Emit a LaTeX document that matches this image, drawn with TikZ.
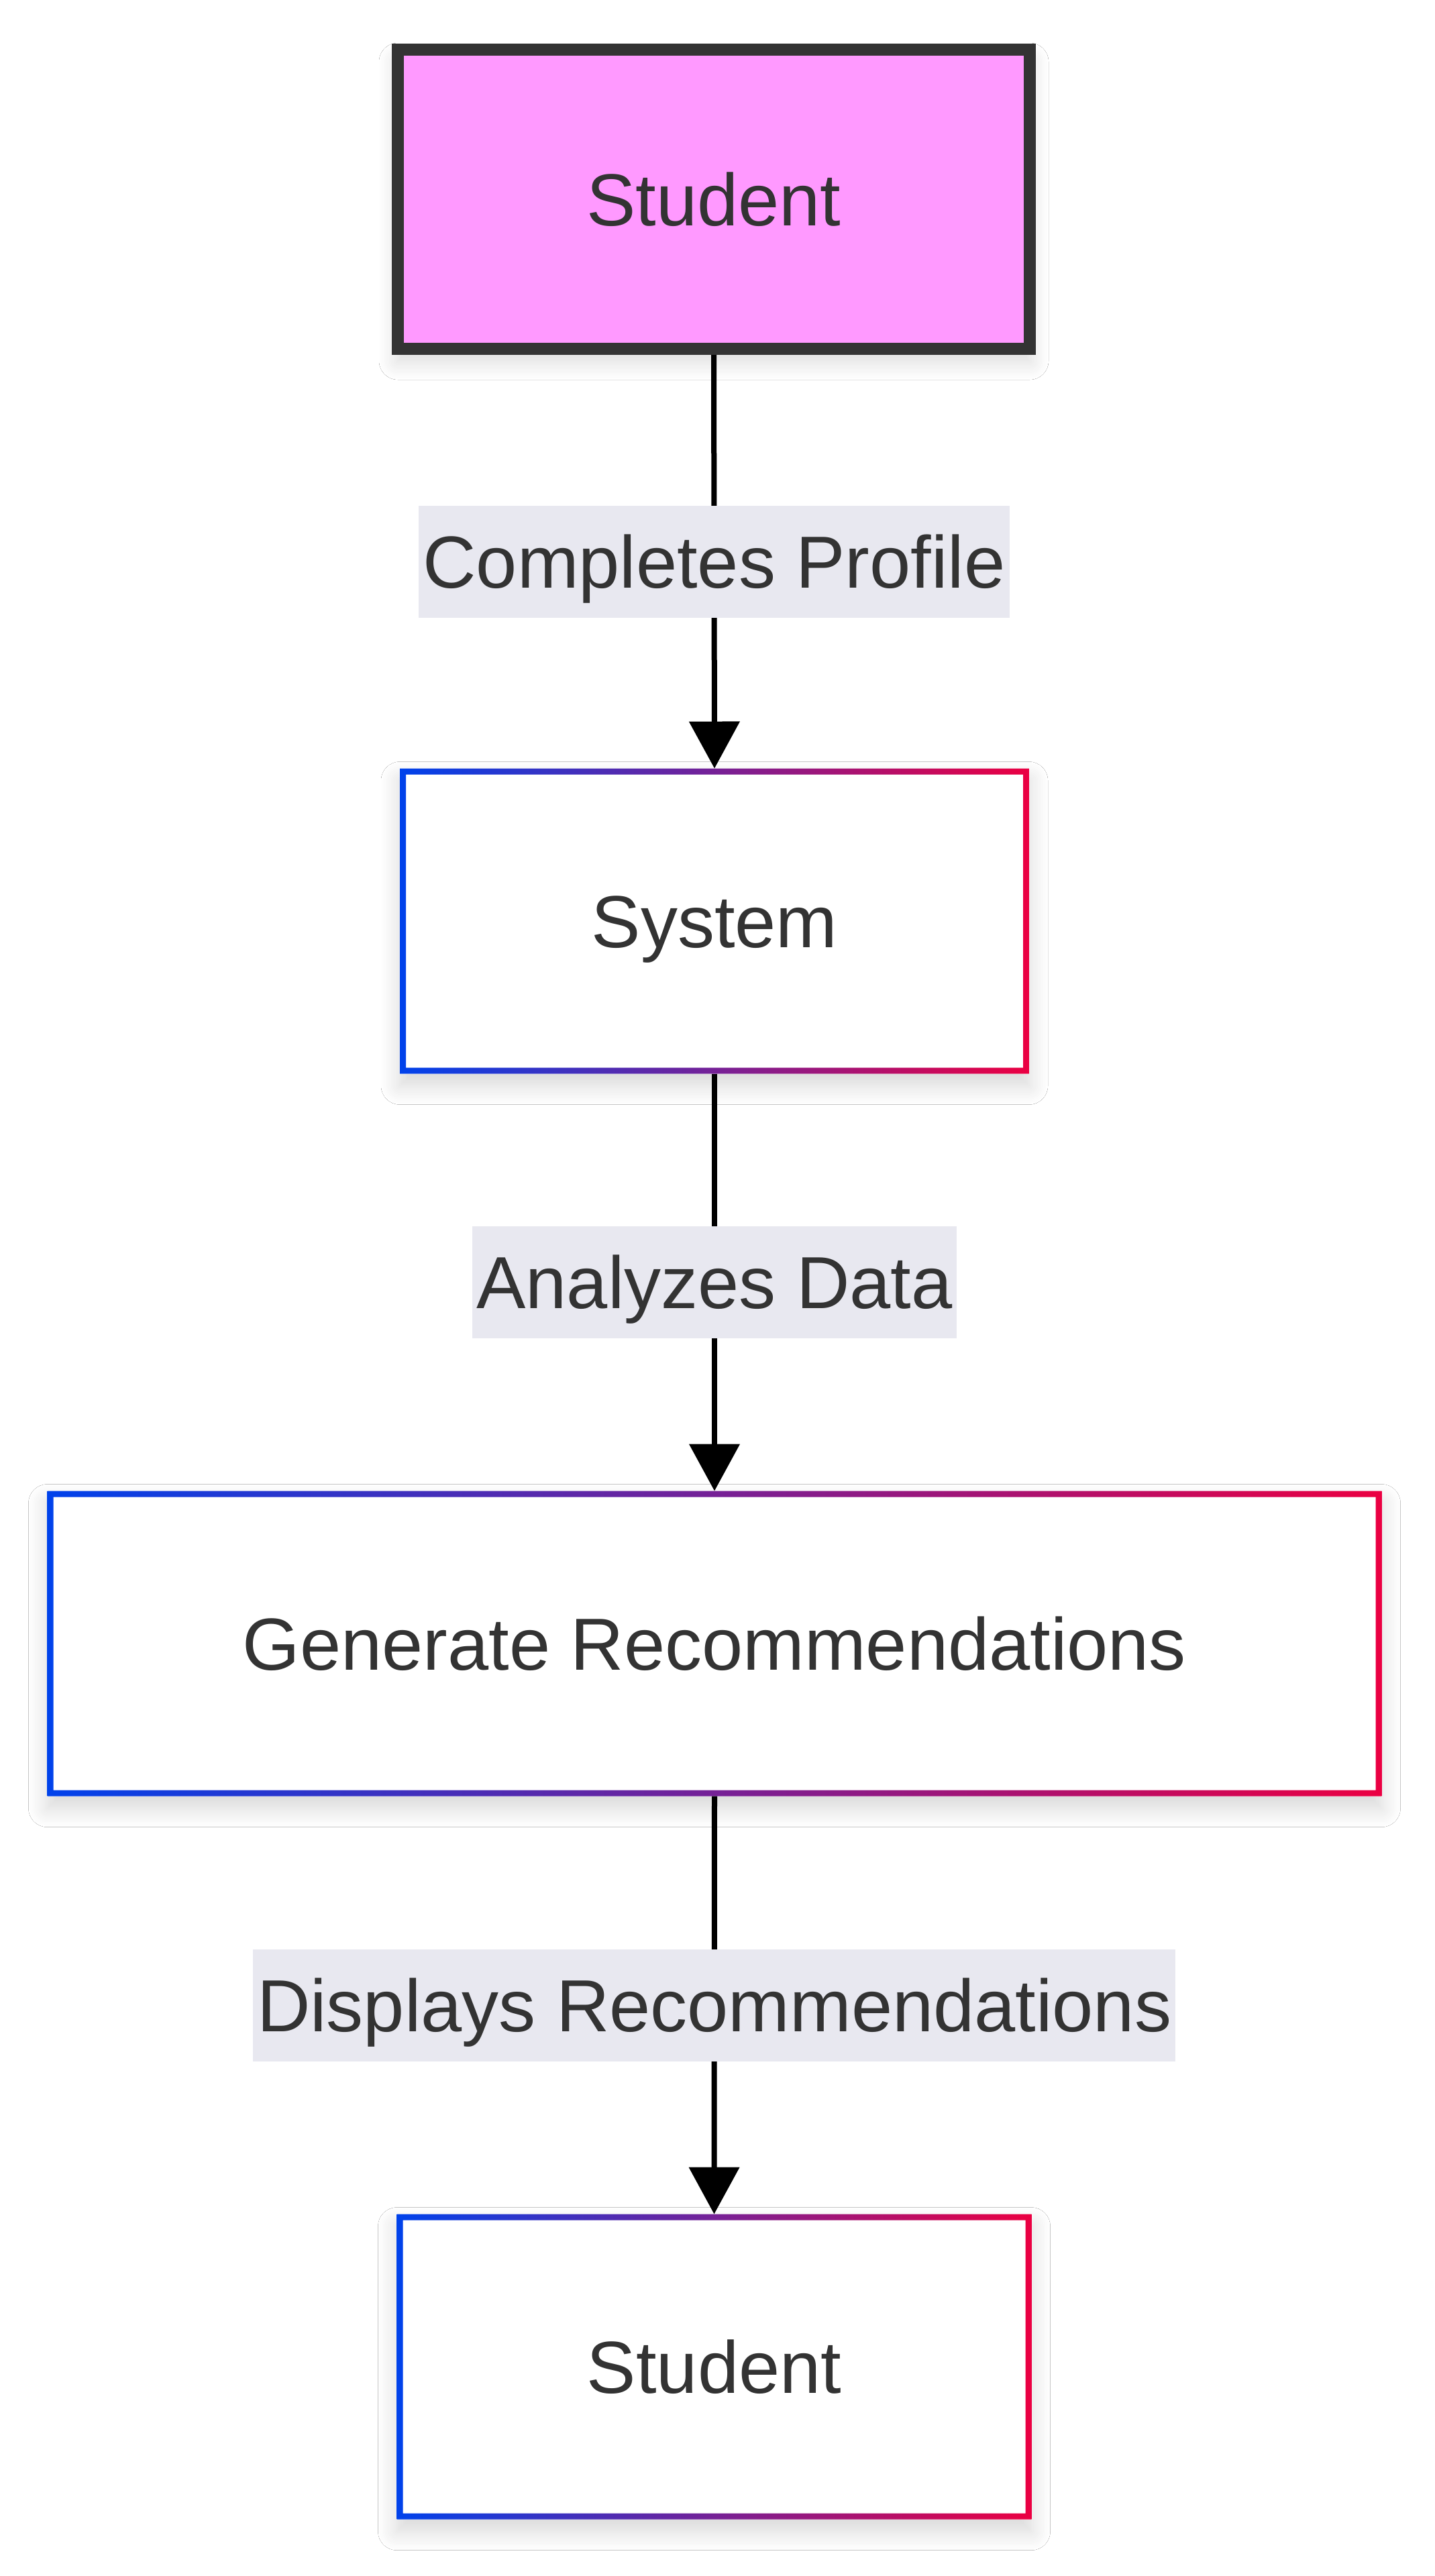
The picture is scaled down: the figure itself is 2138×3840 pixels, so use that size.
\documentclass[tikz,border=0pt]{standalone}
\usepackage{fontspec}
\setmainfont{Liberation Sans}
\usetikzlibrary{arrows.meta,shadows.blur}
\definecolor{txt}{HTML}{333333}
\definecolor{pinkfill}{HTML}{FF99FF}
\definecolor{gblue}{HTML}{0042EB}
\definecolor{gred}{HTML}{EB0042}
\definecolor{lblbg}{RGB}{232,232,240}
\tikzset{
  txtfont/.style={font=\fontsize{55pt}{66pt}\selectfont, text=txt, text height=39.4pt, text depth=0pt},
  shadowed/.style={blur shadow={shadow xshift=0pt, shadow yshift=-9pt, shadow blur radius=14pt, shadow blur steps=12, shadow opacity=16}},
  actor/.style={txtfont, rectangle, draw=txt, line width=9pt, fill=pinkfill, minimum width=471pt, minimum height=223pt, inner sep=0pt, shadowed},
  gradbox/.style={txtfont, rectangle, fill=white, draw=none, outer sep=0pt, inner sep=0pt, minimum height=227.5pt, shadowed,
    path picture={\shade[left color=gblue, right color=gred, even odd rule]
      (path picture bounding box.south west) rectangle (path picture bounding box.north east)
      ([shift={(4.5pt,4.5pt)}]path picture bounding box.south west) rectangle ([shift={(-4.5pt,-4.5pt)}]path picture bounding box.north east);}},
  lbl/.style={txtfont, fill=lblbg, inner xsep=3pt, inner ysep=0pt, minimum height=83.5pt},
  edge/.style={line width=4pt, draw=black, -{Triangle[width=37pt,length=35pt]}},
}
\begin{document}
\begin{tikzpicture}[x=0.5pt,y=-0.5pt]
\fill[white] (0,0) rectangle (2138,3840);
\useasboundingbox (0,0) rectangle (2138,3840);
\node[actor] (s1) at (1064,297) {Student};
\node[gradbox, minimum width=469pt] (sys) at (1065,1373) {System};
\node[gradbox, minimum width=994.5pt] (gen) at (1065,2450) {Generate Recommendations};
\node[gradbox, minimum width=473pt] (s2) at (1064.5,3528) {Student};
\draw[edge] (s1.south) -- node[lbl] (l1) {Completes Profile} (sys.north);
\draw[edge] (sys.south) -- node[lbl] (l2) {Analyzes Data} (gen.north);
\draw[edge] (gen.south) -- node[lbl] (l3) {Displays Recommendations} (s2.north);
\end{tikzpicture}
\end{document}
